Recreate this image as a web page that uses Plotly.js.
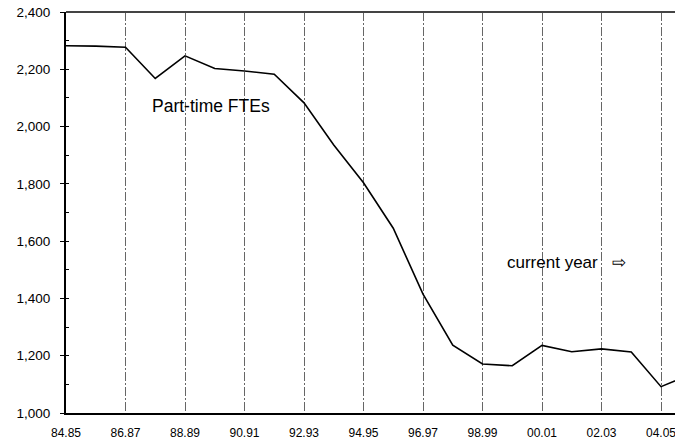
<!DOCTYPE html>
<html>
<head>
<meta charset="utf-8">
<script src="https://cdn.plot.ly/plotly-3.0.1.min.js"></script>
<style>html,body{margin:0;padding:0;background:#fff;}#chart{width:675px;height:441px;}</style>
</head>
<body>
<div id="chart"></div>
<script>
var categories = ["84.85","85.86","86.87","87.88","88.89","89.90","90.91","91.92","92.93","93.94","94.95","95.96","96.97","97.98","98.99","99.00","00.01","01.02","02.03","03.04","04.05","05.06"];
var fteValues = [2282, 2281, 2277, 2168, 2247, 2203, 2194, 2183, 2083, 1936, 1804, 1645, 1415, 1237, 1171, 1165, 1236, 1214, 1224, 1213, 1092, 1135];
var tickCats = ["84.85","86.87","88.89","90.91","92.93","94.95","96.97","98.99","00.01","02.03","04.05"];
var seriesLabel = "Part-time FTEs";
var noteLabel = "current year\u00A0\u00A0\u00A0\u21E8";

var font = "Liberation Sans, Arial, Helvetica, sans-serif";

var trace = {
  x: categories,
  y: fteValues,
  type: "scatter",
  mode: "lines",
  line: {color: "#000", width: 1.6},
  hoverinfo: "skip",
  cliponaxis: true
};

var layout = {
  width: 675, height: 441,
  margin: {l: 66, r: 0, t: 12, b: 28, pad: 0},
  paper_bgcolor: "#fff", plot_bgcolor: "#fff",
  showlegend: false,
  xaxis: {
    type: "category",
    categoryorder: "array",
    categoryarray: categories,
    range: [0, 20.47],
    tickmode: "array",
    tickvals: tickCats,
    ticktext: tickCats,
    ticks: "",
    showgrid: true,
    gridcolor: "#666",
    gridwidth: 1,
    griddash: "9px,2px,2px,2px",
    showline: true,
    linecolor: "#000",
    linewidth: 2,
    zeroline: false,
    tickfont: {family: font, size: 12, color: "#000"},
    ticklabelstandoff: 8,
    fixedrange: true
  },
  yaxis: {
    range: [1000, 2400],
    dtick: 200,
    tick0: 1000,
    tickformat: ",d",
    ticks: "outside",
    ticklen: 4,
    tickcolor: "#000",
    minor: {dtick: 100, ticks: "inside", ticklen: 3, tickcolor: "#000", showgrid: false},
    showgrid: false,
    showline: true,
    linecolor: "#000",
    linewidth: 2,
    zeroline: false,
    tickfont: {family: font, size: 13.5, color: "#000"},
    ticklabelstandoff: 7,
    fixedrange: true
  },
  shapes: [
    {type: "line", xref: "paper", yref: "paper", x0: 0, x1: 1, y0: 1, y1: 1,
     line: {color: "#444", width: 2}}
  ],
  annotations: [
    {text: seriesLabel, xref: "paper", yref: "paper",
     x: (211 - 66) / 609, y: (413 - 106) / 401, xanchor: "center", yanchor: "middle",
     showarrow: false, font: {family: font, size: 17.5, color: "#000"}},
    {text: noteLabel, xref: "paper", yref: "paper",
     x: (566 - 66) / 609, y: (413 - 262) / 401, xanchor: "center", yanchor: "middle",
     showarrow: false, font: {family: font, size: 17, color: "#000"}}
  ]
};

Plotly.newPlot("chart", [trace], layout, {staticPlot: true, displayModeBar: false});
</script>
</body>
</html>
